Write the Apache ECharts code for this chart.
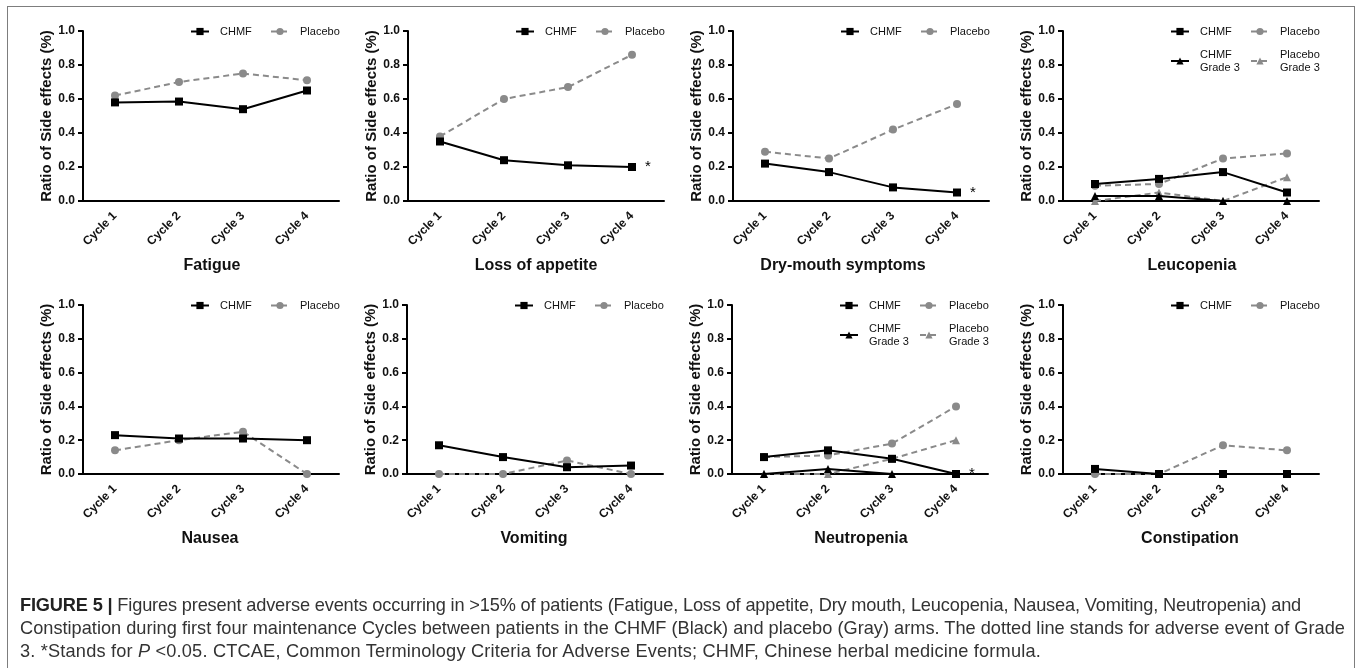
<!DOCTYPE html>
<html>
<head>
<meta charset="utf-8">
<script src="https://cdn.jsdelivr.net/npm/echarts@6/dist/echarts.min.js"></script>
<style>
  html, body { margin: 0; padding: 0; background: #fff; width: 1357px; height: 668px; overflow: hidden; }
  #frame { position: absolute; left: 7px; top: 6px; width: 1348px; height: 672px; border: 1.5px solid #7d7d7d; box-sizing: border-box; }
  #chart { position: absolute; left: 0; top: 0; width: 1357px; height: 668px; }
  #caption { position: absolute; left: 20px; top: 594px; font-family: "Liberation Sans", Arial, Helvetica, sans-serif; font-size: 15px; line-height: 23px; color: #333; white-space: nowrap; }
  #caption span.line { display: block; width: max-content; }
</style>
</head>
<body>
<div id="frame"></div>
<div id="chart"></div>
<div id="caption">
  <span class="line" data-w="1281"><b style="color:#222">FIGURE 5 |</b> Figures present adverse events occurring in &gt;15% of patients (Fatigue, Loss of appetite, Dry mouth, Leucopenia, Nausea, Vomiting, Neutropenia) and</span>
  <span class="line" data-w="1325" id="capRef">Constipation during first four maintenance Cycles between patients in the CHMF (Black) and placebo (Gray) arms. The dotted line stands for adverse event of Grade</span>
  <span class="line" data-w="1021">3. *Stands for <i>P</i> &lt;0.05. CTCAE, Common Terminology Criteria for Adverse Events; CHMF, Chinese herbal medicine formula.</span>
</div>
<script>
// ---------- data ----------
const cycles = ['Cycle 1', 'Cycle 2', 'Cycle 3', 'Cycle 4'];
const panelTitles = ['Fatigue', 'Loss of appetite', 'Dry-mouth symptoms', 'Leucopenia',
                     'Nausea', 'Vomiting', 'Neutropenia', 'Constipation'];
const yAxisName = 'Ratio of Side effects (%)';
const seriesNames = ['CHMF', 'Placebo', 'CHMF Grade 3', 'Placebo Grade 3'];

const fatigueCHMF = [0.58, 0.585, 0.54, 0.65];
const fatiguePlacebo = [0.62, 0.70, 0.75, 0.71];
const appetiteCHMF = [0.35, 0.24, 0.21, 0.20];
const appetitePlacebo = [0.38, 0.60, 0.67, 0.86];
const drymouthCHMF = [0.22, 0.17, 0.08, 0.05];
const drymouthPlacebo = [0.29, 0.25, 0.42, 0.57];
const leucoCHMF = [0.10, 0.13, 0.17, 0.05];
const leucoPlacebo = [0.09, 0.10, 0.25, 0.28];
const leucoCHMFGrade3 = [0.03, 0.03, 0, 0];
const leucoPlaceboGrade3 = [0, 0.05, 0, 0.14];
const nauseaCHMF = [0.23, 0.21, 0.21, 0.20];
const nauseaPlacebo = [0.14, 0.20, 0.25, 0];
const vomitCHMF = [0.17, 0.10, 0.04, 0.05];
const vomitPlacebo = [0, 0, 0.08, 0];
const neutroCHMF = [0.10, 0.14, 0.09, 0];
const neutroPlacebo = [0.10, 0.11, 0.18, 0.40];
const neutroCHMFGrade3 = [0, 0.03, 0, 0];
const neutroPlaceboGrade3 = [0, 0, 0.09, 0.20];
const constipCHMF = [0.03, 0, 0, 0];
const constipPlacebo = [0, 0, 0.17, 0.14];
// significance (*) at Cycle 4 per panel
const significantAtCycle4 = [false, true, true, false, false, false, true, false];

// ---------- panel assembly ----------
const panelSeries = [
  [fatigueCHMF, fatiguePlacebo],
  [appetiteCHMF, appetitePlacebo],
  [drymouthCHMF, drymouthPlacebo],
  [leucoCHMF, leucoPlacebo, leucoCHMFGrade3, leucoPlaceboGrade3],
  [nauseaCHMF, nauseaPlacebo],
  [vomitCHMF, vomitPlacebo],
  [neutroCHMF, neutroPlacebo, neutroCHMFGrade3, neutroPlaceboGrade3],
  [constipCHMF, constipPlacebo]
];

// ---------- layout ----------
const FONT = '"Liberation Sans", Arial, Helvetica, sans-serif';
const gridLefts = [83, 408, 733, 1063, 83, 407, 732, 1063];
const gridTops = [31, 31, 31, 31, 305, 305, 305, 305];
const gridHeights = [170, 170, 170, 170, 169, 169, 169, 169];
const gridWidth = 256;
const titleCenters = [212, 536, 843, 1192, 210, 534, 861, 1190];
const titleTops = [258, 258, 258, 258, 531, 531, 531, 531];

const styleFor = {
  'CHMF': { color: '#000', dash: 'solid', symbol: 'rect', z: 4 },
  'Placebo': { color: '#8a8a8a', dash: [6, 4], symbol: 'circle', z: 3 },
  'CHMF Grade 3': { color: '#000', dash: 'solid', symbol: 'triangle', z: 4 },
  'Placebo Grade 3': { color: '#8a8a8a', dash: [6, 4], symbol: 'triangle', z: 3 }
};

const grids = [], xAxes = [], yAxes = [], series = [], titles = [], legends = [];

panelSeries.forEach((list, p) => {
  grids.push({ left: gridLefts[p], top: gridTops[p], width: gridWidth, height: gridHeights[p], containLabel: false });
  xAxes.push({
    type: 'category', gridIndex: p, data: cycles, boundaryGap: true,
    axisLine: { lineStyle: { color: '#000', width: 2 } },
    axisTick: { alignWithLabel: true, length: 5, lineStyle: { color: '#000', width: 2 } },
    axisLabel: { rotate: 45, margin: 13, color: '#111', fontWeight: 'bold', fontSize: 12, fontFamily: FONT },
    splitLine: { show: false }
  });
  yAxes.push({
    type: 'value', gridIndex: p, min: 0, max: 1, interval: 0.2,
    name: yAxisName, nameLocation: 'middle', nameGap: 28,
    nameTextStyle: { color: '#111', fontWeight: 'bold', fontSize: 15, fontFamily: FONT },
    axisLine: { show: true, lineStyle: { color: '#000', width: 2 } },
    axisTick: { show: true, length: 5, lineStyle: { color: '#000', width: 2 } },
    axisLabel: { margin: 8, color: '#111', fontWeight: 'bold', fontSize: 12, fontFamily: FONT,
                 formatter: v => v.toFixed(1) },
    splitLine: { show: false }
  });
  titles.push({
    text: panelTitles[p], left: titleCenters[p], top: titleTops[p], textAlign: 'center', padding: 0,
    textStyle: { color: '#111', fontWeight: 'bold', fontSize: 16, fontFamily: FONT }
  });

  list.forEach((vals, k) => {
    const name = seriesNames[k];
    const st = styleFor[name];
    const data = vals.map((v, i) => {
      if (k === 0 && i === 3 && significantAtCycle4[p]) {
        return { value: v, label: { show: true, formatter: '*', position: 'right', distance: 9,
                 color: '#000', fontSize: 15, fontFamily: FONT } };
      }
      return v;
    });
    series.push({
      type: 'line', name: name, xAxisIndex: p, yAxisIndex: p, data: data,
      symbol: st.symbol, symbolSize: 8,
      z: st.z,
      lineStyle: { color: st.color, width: 2, type: st.dash },
      itemStyle: { color: st.color },
      label: { show: false },
      emphasis: { disabled: true },
      animation: false
    });
  });

  // legends: one component per item for precise column alignment
  const col = [gridLefts[p] + 107, gridLefts[p] + 187];
  list.forEach((vals, k) => {
    const name = seriesNames[k];
    const row = k < 2 ? 0 : 1;
    const c = k % 2;
    legends.push({
      data: [name], left: col[c], top: row === 0 ? gridTops[p] - 6 : gridTops[p] + 17,
      padding: 0, itemWidth: 18, itemHeight: 9, itemGap: 0,
      selectedMode: false,
      formatter: n => n.replace(' Grade 3', '\nGrade 3'),
      textStyle: { color: '#111', fontSize: 11, fontFamily: FONT, lineHeight: 13, padding: [0, 0, 0, 6] }
    });
  });
});

const chart = echarts.init(document.getElementById('chart'), null, { renderer: 'canvas' });
chart.setOption({
  animation: false,
  backgroundColor: 'transparent',
  title: titles,
  legend: legends,
  grid: grids,
  xAxis: xAxes,
  yAxis: yAxes,
  series: series
});

// fit caption font size to line 2, then each line's width via letter-spacing
(function () {
  const cap = document.getElementById('caption');
  const ref = document.getElementById('capRef');
  const w = ref.getBoundingClientRect().width;
  const fs = 15 * (+ref.dataset.w) / w;
  cap.style.fontSize = fs.toFixed(2) + 'px';
  cap.querySelectorAll('span.line').forEach(el => {
    const target = +el.dataset.w;
    const cur = el.getBoundingClientRect().width;
    const n = el.textContent.length;
    if (n > 1) el.style.letterSpacing = ((target - cur) / n).toFixed(3) + 'px';
  });
})();
</script>
</body>
</html>
